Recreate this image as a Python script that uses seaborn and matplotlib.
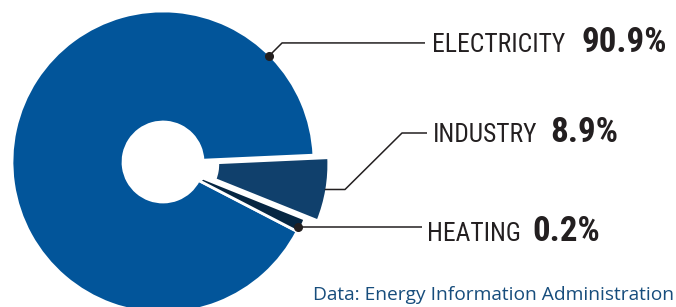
import matplotlib
matplotlib.use("Agg")
import matplotlib.pyplot as plt
from matplotlib import font_manager
import numpy as np
import seaborn as sns

sns.set_theme(style="white")

# data
CATEGORIES = ["ELECTRICITY", "INDUSTRY", "HEATING"]
SHARE_LABELS = ["90.9%", "8.9%", "0.2%"]
# ring sizes as drawn in the graphic (degrees), not strictly proportional
WEDGE_DEGREES = [330.0, 24.5, 5.5]
SOURCE = "Data: Energy Information Administration"

# style / layout
COLORS = ["#02559a", "#10406c", "#062642"]
EXPLODE = [0.0, 15.0, 2.0]   # pie explode is in data units (pixels here)
INK = "#231f20"
SOURCE_COLOR = "#174d7c"
W, H = 676, 307

entries = font_manager.fontManager.ttflist
names = {f.name for f in entries}
condensed = [f.name for f in entries
             if f.stretch in ("condensed", "semi-condensed", "extra-condensed")]
LABEL_FONT, LABEL_STRETCH = "DejaVu Sans", "normal"
for cand in ["Roboto Condensed", "Liberation Sans Narrow", "Open Sans Condensed",
             "Noto Sans Condensed", "DejaVu Sans Condensed"]:
    if cand in names:
        LABEL_FONT = cand
        break
else:
    for cand in ["Roboto", "Noto Sans", "Open Sans", "DejaVu Sans"]:
        if cand in condensed:
            LABEL_FONT, LABEL_STRETCH = cand, "condensed"
            break
SOURCE_FONT = "Open Sans" if "Open Sans" in names else "DejaVu Sans"

fig = plt.figure(figsize=(W / 100, H / 100), dpi=100)
ax = fig.add_axes([0, 0, 1, 1])

cx, cy = 163, H - 162
R, HOLE = 151, 40

wedges, _ = ax.pie(
    WEDGE_DEGREES, explode=EXPLODE, colors=COLORS,
    startangle=-27.4, counterclock=False, radius=R, center=(cx, cy),
    wedgeprops=dict(width=R - HOLE, edgecolor="white", linewidth=2),
)
ax.set_xlim(0, W)
ax.set_ylim(0, H)
ax.set_aspect("equal")
ax.axis("off")


def on_ring(wedge, r, deg):
    x0, y0 = wedge.center
    t = np.deg2rad(deg)
    return x0 + r * np.cos(t), y0 + r * np.sin(t)


def mid(wedge):
    return (wedge.theta1 + wedge.theta2) / 2


# leader lines: anchor on the ring, then elbows out to the label
line_kw = dict(color=INK, lw=1.1, solid_capstyle="butt")

ax_, ay_ = on_ring(wedges[0], R - 1, 45)
ax.plot([ax_, ax_ + 13, 425], [ay_, ay_ + 13, ay_ + 13], **line_kw)
ax.plot(ax_, ay_, "o", color=INK, ms=5.5)

ix, iy = on_ring(wedges[1], R - 2, mid(wedges[1]))
ax.plot([ix, 345, 402, 427], [iy, iy, H - 133, H - 133], **line_kw)

hx, hy = on_ring(wedges[2], R - 3, mid(wedges[2]) - 1)
ax.plot([hx, 422], [hy, hy], **line_kw)
ax.plot(hx, hy, "o", color=INK, ms=5.5)

renderer = fig.canvas.get_renderer()


def text_width(s, **kw):
    t = ax.text(0, 0, s, **kw)
    w = t.get_window_extent(renderer).width
    t.remove()
    return w


# pick sizes so the label and share widths follow the reference
lab_kw = dict(family=LABEL_FONT, fontstretch=LABEL_STRETCH, color=INK)
num_kw = dict(family=LABEL_FONT, fontstretch=LABEL_STRETCH, color=INK, fontweight="bold")
lab_size = min(22, 20 * 133 / text_width(CATEGORIES[0], fontsize=20, **lab_kw))
num_size = min(26, 20 * 86 / text_width(SHARE_LABELS[0], fontsize=20, **num_kw))

label_pos = [(432, H - 52.5), (433, H - 142), (427, H - 241)]
gaps = [16, 13, 12]
inv = ax.transData.inverted()
for name, share, gap, (x, y) in zip(CATEGORIES, SHARE_LABELS, gaps, label_pos):
    t = ax.text(x, y, name, fontsize=lab_size, va="baseline", ha="left", **lab_kw)
    bb = t.get_window_extent(renderer)
    x_end = inv.transform((bb.x1, bb.y0))[0]
    ax.text(x_end + gap, y, share, fontsize=num_size, va="baseline", ha="left", **num_kw)

ax.text(674, H - 300.5, SOURCE, family=SOURCE_FONT, fontsize=13.8,
        color=SOURCE_COLOR, va="baseline", ha="right")

fig.savefig("out.png", dpi=100)
